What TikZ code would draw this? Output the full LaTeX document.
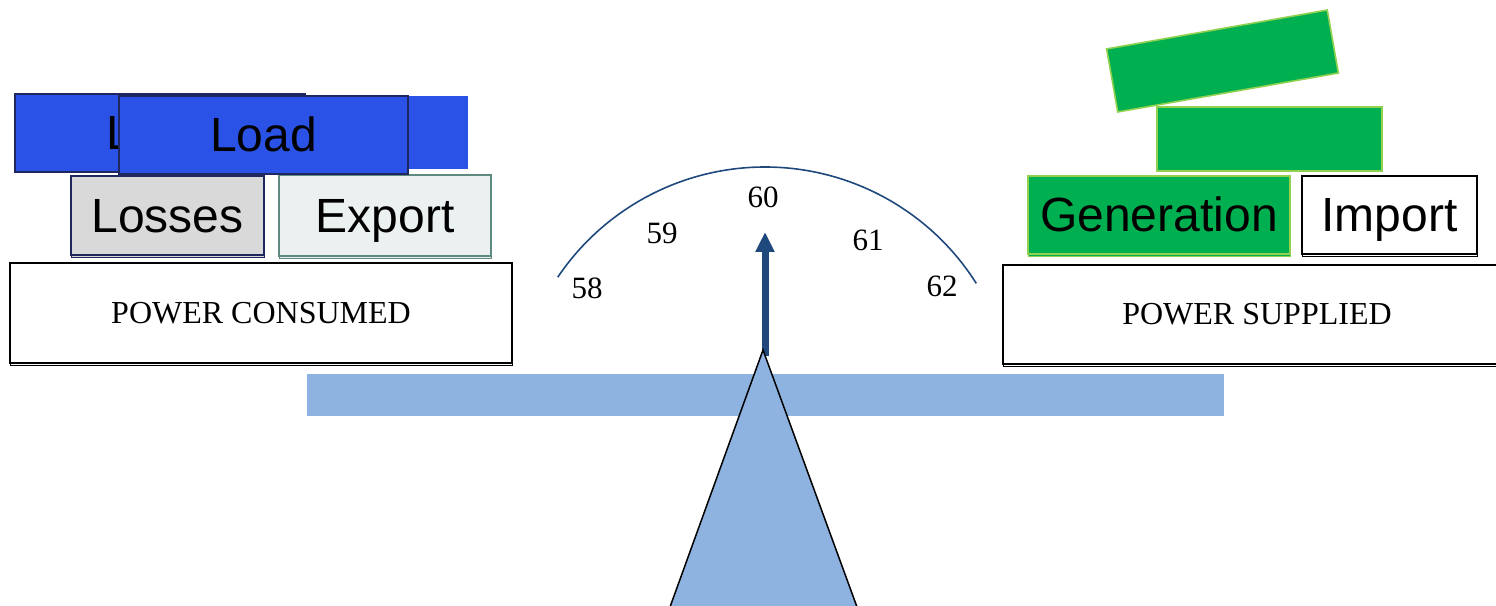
\documentclass[tikz,border=0pt]{standalone}
\usepackage{fontspec}
\setmainfont{Liberation Serif}
\newfontfamily\arialf{Liberation Sans}
\usetikzlibrary{arrows.meta,shadows}

\definecolor{loadblue}{RGB}{43,82,230}
\definecolor{navyline}{RGB}{30,40,95}
\definecolor{lossgray}{RGB}{217,217,217}
\definecolor{exportfill}{RGB}{235,241,241}
\definecolor{exportline}{RGB}{94,138,128}
\definecolor{gengreen}{RGB}{0,176,80}
\definecolor{genline}{RGB}{146,208,80}
\definecolor{beamblue}{RGB}{142,179,225}
\definecolor{dialblue}{RGB}{31,73,125}

\tikzset{
  box/.style={rectangle, inner sep=0pt, line width=1.6pt, text height=34pt, text depth=0pt,
    font=\arialf\fontsize{48}{56}\selectfont},
  labelbox/.style={rectangle, inner sep=0pt, line width=1.8pt, draw=black, fill=white,
    text height=21pt, text depth=0pt, font=\fontsize{32}{38}\selectfont},
  shadowed/.style={copy shadow={shadow xshift=0.5pt, shadow yshift=-2.5pt}},
  loadbox/.style={box, draw=navyline, fill=loadblue},
  greenbox/.style={box, draw=genline, fill=gengreen},
  dialnum/.style={inner sep=0pt, font=\fontsize{31}{36}\selectfont}
}

\begin{document}
\begin{tikzpicture}[x=1pt,y=1pt]
\useasboundingbox (0,0) rectangle (1496,605);

% beam and dial
\fill[beamblue] (307,189) rectangle (1224,231);
\draw[dialblue, line width=1.6pt] (765,188) ++(146:250) arc[start angle=146, end angle=32.3, radius=250];
\node[dialnum] (n58) at (587,317) {58};
\node[dialnum] (n59) at (662,372) {59};
\node[dialnum] (n60) at (763,408) {60};
\node[dialnum] (n61) at (868,365) {61};
\node[dialnum] (n62) at (942,319) {62};
\coordinate (pivot) at (765,249);
\coordinate (tip) at (765,373);
\draw[dialblue, line width=7pt, -{Triangle[length=20pt,width=18pt]}] (pivot) -- (tip);

% fulcrum
\draw[fill=beamblue, line width=1.5pt] (763,255) -- (857,-2) -- (670,-2) -- cycle;

% consumed side
\node[labelbox, shadowed, minimum width=502pt, minimum height=100pt] (consumed) at (261,292) {POWER CONSUMED};
\node[box, shadowed, draw=navyline, fill=lossgray, minimum width=193pt, minimum height=79pt] (losses) at (167.5,389.5) {Losses};
\node[box, shadowed, draw=exportline, fill=exportfill, minimum width=212pt, minimum height=81pt] (export) at (385,389.5) {Export};
\node[loadbox, minimum width=290pt, minimum height=78pt] (loadback) at (160,472) {Load};
\node[box, fill=loadblue, minimum width=168pt, minimum height=73pt] (loadtail) at (384,472.5) {};
\node[loadbox, minimum width=289pt, minimum height=78pt] (loadfront) at (263.5,470) {Load};

% supplied side
\node[labelbox, shadowed, minimum width=508pt, minimum height=99pt] (supplied) at (1257,290.5) {POWER SUPPLIED};
\node[greenbox, shadowed, minimum width=262pt, minimum height=78pt] (generation) at (1159,390) {Generation};
\node[box, shadowed, draw=black, fill=white, minimum width=175pt, minimum height=78pt] (import) at (1389.5,390) {Import};
\node[greenbox, minimum width=225pt, minimum height=64pt] (genmid) at (1269.5,466) {};
\node[greenbox, rotate=10, minimum width=224pt, minimum height=64pt] (gentop) at (1222.5,544) {};
\end{tikzpicture}
\end{document}
